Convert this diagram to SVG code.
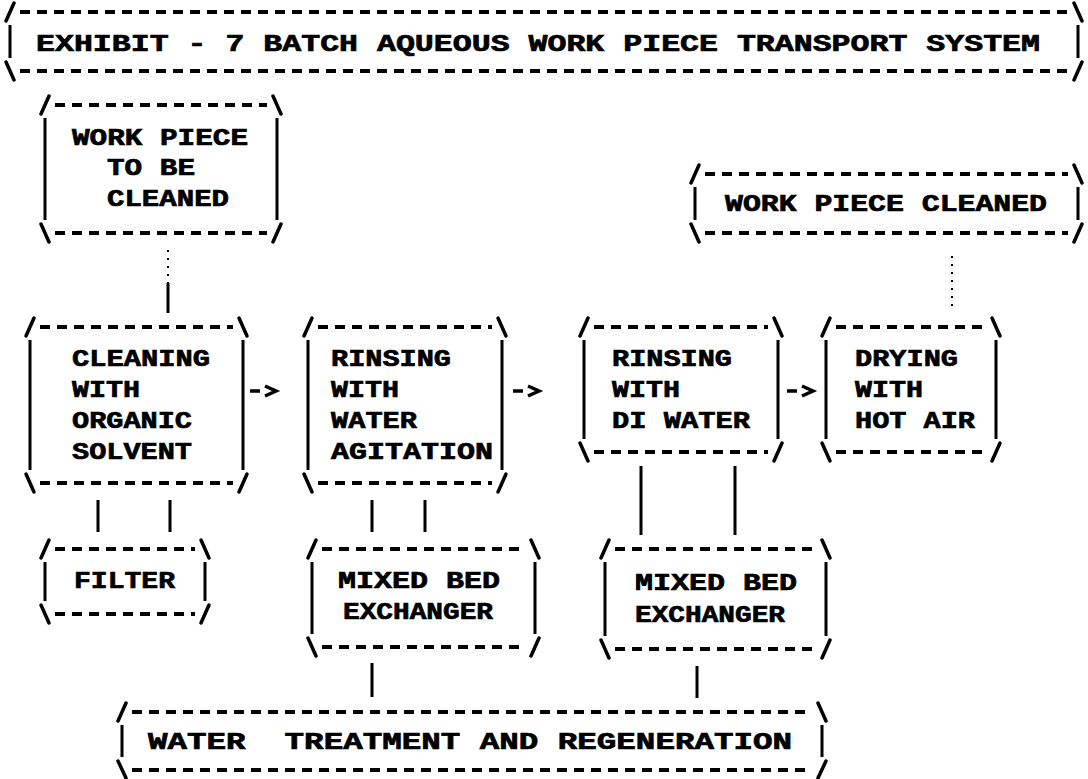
<svg xmlns="http://www.w3.org/2000/svg" width="1088" height="779" viewBox="0 0 1088 779">
<defs>
<style>
.t{font-family:"Liberation Mono","DejaVu Sans Mono",monospace;font-weight:bold;font-size:24px;fill:#000;stroke:#000;stroke-width:0.7}
.d{stroke:#000;stroke-width:4;stroke-dasharray:10 7;fill:none}
.s{stroke:#000;stroke-width:3;fill:none}
.c{stroke:#000;stroke-width:3.5;stroke-linecap:round;fill:none}
.k{stroke:#000;stroke-width:3;fill:none}
.dot{stroke:#000;stroke-width:2;stroke-dasharray:2 6;fill:none}
</style>
<path id="arr" d="M0 0 H10 M15 -5 L26 0 L15 5" stroke="#000" stroke-width="3.5" fill="none"/>
</defs>
<rect width="1088" height="779" fill="#fff"/>

<g id="title">
<path class="d" d="M20 12 H1068 M20 71 H1068"/>
<path class="s" d="M10 25 V58 M1078 25 V58"/>
<path class="c" d="M6 21 L14 3 M1074 3 L1082 21 M6 62 L14 80 M1074 80 L1082 62"/>
<text class="t" x="36" y="51" textLength="1004" lengthAdjust="spacingAndGlyphs">EXHIBIT - 7 BATCH AQUEOUS WORK PIECE TRANSPORT SYSTEM</text>
</g>

<g id="work-piece-to-be-cleaned">
<path class="d" d="M55 105 H267 M55 233 H267"/>
<path class="s" d="M45 118 V220 M277 118 V220"/>
<path class="c" d="M41 114 L49 96 M273 96 L281 114 M41 224 L49 242 M273 242 L281 224"/>
<text class="t" x="72" y="145" textLength="176" lengthAdjust="spacingAndGlyphs">WORK PIECE</text>
<text class="t" x="107" y="175" textLength="88" lengthAdjust="spacingAndGlyphs">TO BE</text>
<text class="t" x="107" y="206" textLength="122" lengthAdjust="spacingAndGlyphs">CLEANED</text>
</g>

<g id="work-piece-cleaned">
<path class="d" d="M705 174 H1068 M705 233 H1068"/>
<path class="s" d="M695 187 V220 M1078 187 V220"/>
<path class="c" d="M691 183 L699 165 M1074 165 L1082 183 M691 224 L699 242 M1074 242 L1082 224"/>
<text class="t" x="725" y="211" textLength="322" lengthAdjust="spacingAndGlyphs">WORK PIECE CLEANED</text>
</g>

<g id="cleaning">
<path class="d" d="M40 327 H233 M40 483 H233"/>
<path class="s" d="M30 340 V470 M243 340 V470"/>
<path class="c" d="M26 336 L34 318 M239 318 L247 336 M26 474 L34 492 M239 492 L247 474"/>
<text class="t" x="72" y="366" textLength="138" lengthAdjust="spacingAndGlyphs">CLEANING</text>
<text class="t" x="72" y="397" textLength="68" lengthAdjust="spacingAndGlyphs">WITH</text>
<text class="t" x="72" y="428" textLength="120" lengthAdjust="spacingAndGlyphs">ORGANIC</text>
<text class="t" x="72" y="459" textLength="120" lengthAdjust="spacingAndGlyphs">SOLVENT</text>
</g>

<g id="rinsing-water">
<path class="d" d="M318 327 H492 M318 483 H492"/>
<path class="s" d="M308 340 V470 M502 340 V470"/>
<path class="c" d="M304 336 L312 318 M498 318 L506 336 M304 474 L312 492 M498 492 L506 474"/>
<text class="t" x="331" y="366" textLength="120" lengthAdjust="spacingAndGlyphs">RINSING</text>
<text class="t" x="331" y="397" textLength="68" lengthAdjust="spacingAndGlyphs">WITH</text>
<text class="t" x="331" y="428" textLength="86" lengthAdjust="spacingAndGlyphs">WATER</text>
<text class="t" x="331" y="459" textLength="162" lengthAdjust="spacingAndGlyphs">AGITATION</text>
</g>

<g id="rinsing-di">
<path class="d" d="M594 327 H768 M594 452 H768"/>
<path class="s" d="M584 340 V439 M778 340 V439"/>
<path class="c" d="M580 336 L588 318 M774 318 L782 336 M580 443 L588 461 M774 461 L782 443"/>
<text class="t" x="612" y="366" textLength="120" lengthAdjust="spacingAndGlyphs">RINSING</text>
<text class="t" x="612" y="397" textLength="68" lengthAdjust="spacingAndGlyphs">WITH</text>
<text class="t" x="612" y="428" textLength="138" lengthAdjust="spacingAndGlyphs">DI WATER</text>
</g>

<g id="drying">
<path class="d" d="M836 327 H986 M836 452 H986"/>
<path class="s" d="M826 340 V439 M996 340 V439"/>
<path class="c" d="M822 336 L830 318 M992 318 L1000 336 M822 443 L830 461 M992 461 L1000 443"/>
<text class="t" x="855" y="366" textLength="103" lengthAdjust="spacingAndGlyphs">DRYING</text>
<text class="t" x="855" y="397" textLength="68" lengthAdjust="spacingAndGlyphs">WITH</text>
<text class="t" x="855" y="428" textLength="120" lengthAdjust="spacingAndGlyphs">HOT AIR</text>
</g>

<g id="filter">
<path class="d" d="M55 549 H195 M55 614 H195"/>
<path class="s" d="M45 562 V601 M205 562 V601"/>
<path class="c" d="M41 558 L49 540 M201 540 L209 558 M41 605 L49 623 M201 623 L209 605"/>
<text class="t" x="74" y="588" textLength="101" lengthAdjust="spacingAndGlyphs">FILTER</text>
</g>

<g id="mixed-bed-1">
<path class="d" d="M322 549 H525 M322 647 H525"/>
<path class="s" d="M312 562 V634 M535 562 V634"/>
<path class="c" d="M308 558 L316 540 M531 540 L539 558 M308 638 L316 656 M531 656 L539 638"/>
<text class="t" x="338" y="588" textLength="162" lengthAdjust="spacingAndGlyphs">MIXED BED</text>
<text class="t" x="343" y="619" textLength="150" lengthAdjust="spacingAndGlyphs">EXCHANGER</text>
</g>

<g id="mixed-bed-2">
<path class="d" d="M615 549 H816 M615 649 H816"/>
<path class="s" d="M605 562 V636 M826 562 V636"/>
<path class="c" d="M601 558 L609 540 M822 540 L830 558 M601 640 L609 658 M822 658 L830 640"/>
<text class="t" x="635" y="590" textLength="162" lengthAdjust="spacingAndGlyphs">MIXED BED</text>
<text class="t" x="635" y="622" textLength="150" lengthAdjust="spacingAndGlyphs">EXCHANGER</text>
</g>

<g id="water-treatment">
<path class="d" d="M132 712 H812 M132 770 H812"/>
<path class="s" d="M122 725 V757 M822 725 V757"/>
<path class="c" d="M118 721 L126 703 M818 703 L826 721 M118 761 L126 778 M818 778 L826 761"/>
<text class="t" x="148" y="749" textLength="644" lengthAdjust="spacingAndGlyphs" xml:space="preserve">WATER  TREATMENT AND REGENERATION</text>
</g>

<g id="connectors">
<path class="dot" d="M168 250 V283"/>
<path class="k" d="M168 283 V313"/>
<path class="dot" d="M952 256 V311" stroke-width="1.5"/>
<path class="k" d="M98 500 V532 M170 500 V532"/>
<path class="k" d="M372 500 V532 M425 500 V532"/>
<path class="k" d="M641 466 V535 M735 466 V535"/>
<path class="k" d="M372 663 V697"/>
<path class="k" d="M697 666 V698"/>
<use href="#arr" x="250" y="391"/>
<use href="#arr" x="513" y="391"/>
<use href="#arr" x="787" y="391"/>
</g>
</svg>
